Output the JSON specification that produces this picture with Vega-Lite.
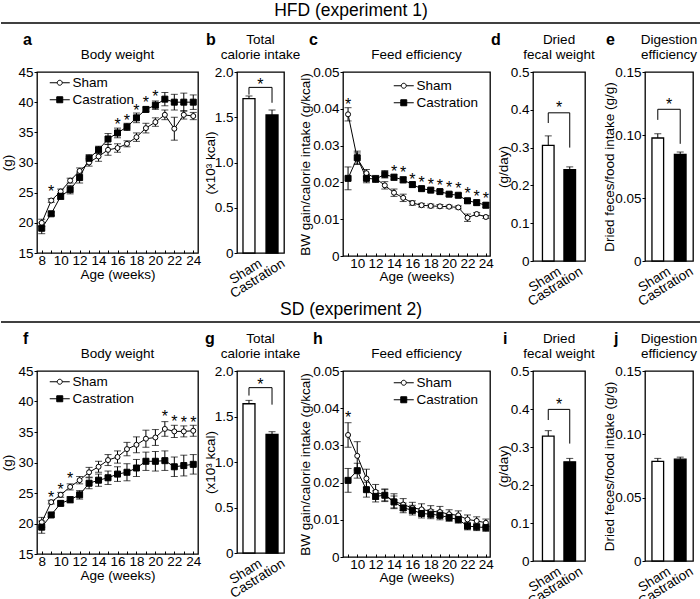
{
"$schema": "https://vega.github.io/schema/vega-lite/v6.json",
"padding": {"top": 1, "left": 0, "right": 0, "bottom": 0},
"spacing": -9,
"background": "white",
"config": {
 "font": "Liberation Sans",
 "view": {"stroke": "black", "strokeWidth": 1.3},
 "axis": {"grid": false, "domain": false, "labelFontSize": 13.5, "titleFontSize": 13.5, "titleFontWeight": "normal", "labelColor": "black", "titleColor": "black", "tickColor": "black", "tickSize": 3, "labelPadding": 1, "labelFlush": false, "labelOverlap": false},
 "title": {"fontSize": 13.5, "fontWeight": "normal", "color": "black", "offset": 4, "lineHeight": 15},
 "legend": {"labelFontSize": 13.5, "labelColor": "black", "padding": 0, "rowPadding": 2}
},
"datasets": {
 "bw1": [
  {"week":8,"group":"Sham","mean":20.0,"se":0.6},{"week":9,"group":"Sham","mean":23.7,"se":0.3},{"week":10,"group":"Sham","mean":25.2,"se":0.4},{"week":11,"group":"Sham","mean":27.0,"se":0.4},{"week":12,"group":"Sham","mean":28.6,"se":0.5},{"week":13,"group":"Sham","mean":30.0,"se":0.6},{"week":14,"group":"Sham","mean":31.0,"se":0.8},{"week":15,"group":"Sham","mean":32.1,"se":0.9},{"week":16,"group":"Sham","mean":32.4,"se":0.7},{"week":17,"group":"Sham","mean":33.1,"se":0.5},{"week":18,"group":"Sham","mean":34.2,"se":0.7},{"week":19,"group":"Sham","mean":35.7,"se":0.8},{"week":20,"group":"Sham","mean":36.7,"se":0.7},{"week":21,"group":"Sham","mean":37.9,"se":0.8},{"week":22,"group":"Sham","mean":35.6,"se":1.9},{"week":23,"group":"Sham","mean":37.9,"se":0.7},{"week":24,"group":"Sham","mean":37.7,"se":0.6},
  {"week":8,"group":"Castration","mean":19.1,"se":0.9},{"week":9,"group":"Castration","mean":21.5,"se":0.3},{"week":10,"group":"Castration","mean":24.4,"se":0.5},{"week":11,"group":"Castration","mean":25.5,"se":0.7},{"week":12,"group":"Castration","mean":27.5,"se":0.9},{"week":13,"group":"Castration","mean":30.7,"se":0.6},{"week":14,"group":"Castration","mean":32.1,"se":0.6},{"week":15,"group":"Castration","mean":33.9,"se":0.9},{"week":16,"group":"Castration","mean":34.9,"se":0.8},{"week":17,"group":"Castration","mean":35.9,"se":0.6},{"week":18,"group":"Castration","mean":37.4,"se":0.8},{"week":19,"group":"Castration","mean":38.8,"se":0.4},{"week":20,"group":"Castration","mean":39.5,"se":0.7},{"week":21,"group":"Castration","mean":40.5,"se":1.1},{"week":22,"group":"Castration","mean":40.0,"se":1.3},{"week":23,"group":"Castration","mean":40.0,"se":1.5},{"week":24,"group":"Castration","mean":40.0,"se":1.2}
 ],
 "st_a": [{"week":9,"mean":25.8},{"week":16,"mean":36.8},{"week":17,"mean":37.6},{"week":18,"mean":39.2},{"week":19,"mean":40.5},{"week":20,"mean":41.6}],
 "fe1": [
  {"week":9,"group":"Sham","mean":0.0385,"se":0.0018},{"week":10,"group":"Sham","mean":0.0265,"se":0.0015},{"week":11,"group":"Sham","mean":0.0225,"se":0.001},{"week":12,"group":"Sham","mean":0.0211,"se":0.0008},{"week":13,"group":"Sham","mean":0.0192,"se":0.001},{"week":14,"group":"Sham","mean":0.0172,"se":0.001},{"week":15,"group":"Sham","mean":0.0158,"se":0.001},{"week":16,"group":"Sham","mean":0.0144,"se":0.0006},{"week":17,"group":"Sham","mean":0.0138,"se":0.0005},{"week":18,"group":"Sham","mean":0.0136,"se":0.0005},{"week":19,"group":"Sham","mean":0.0135,"se":0.0005},{"week":20,"group":"Sham","mean":0.0134,"se":0.0004},{"week":21,"group":"Sham","mean":0.0132,"se":0.0004},{"week":22,"group":"Sham","mean":0.0104,"se":0.001},{"week":23,"group":"Sham","mean":0.0114,"se":0.0004},{"week":24,"group":"Sham","mean":0.0106,"se":0.0004},
  {"week":9,"group":"Castration","mean":0.0211,"se":0.0031},{"week":10,"group":"Castration","mean":0.0267,"se":0.0018},{"week":11,"group":"Castration","mean":0.0211,"se":0.0012},{"week":12,"group":"Castration","mean":0.0209,"se":0.0009},{"week":13,"group":"Castration","mean":0.0222,"se":0.001},{"week":14,"group":"Castration","mean":0.0214,"se":0.0008},{"week":15,"group":"Castration","mean":0.0207,"se":0.0008},{"week":16,"group":"Castration","mean":0.0194,"se":0.0007},{"week":17,"group":"Castration","mean":0.0183,"se":0.0006},{"week":18,"group":"Castration","mean":0.0179,"se":0.0005},{"week":19,"group":"Castration","mean":0.0175,"se":0.0005},{"week":20,"group":"Castration","mean":0.0168,"se":0.0005},{"week":21,"group":"Castration","mean":0.0165,"se":0.0005},{"week":22,"group":"Castration","mean":0.0150,"se":0.0007},{"week":23,"group":"Castration","mean":0.0145,"se":0.0007},{"week":24,"group":"Castration","mean":0.0138,"se":0.0007}
 ],
 "st_c": [{"week":9,"mean":0.042},{"week":14,"mean":0.0238},{"week":15,"mean":0.0236},{"week":16,"mean":0.0217},{"week":17,"mean":0.0209},{"week":18,"mean":0.0204},{"week":19,"mean":0.0202},{"week":20,"mean":0.0196},{"week":21,"mean":0.0193},{"week":22,"mean":0.0179},{"week":23,"mean":0.0172},{"week":24,"mean":0.0165}],
 "cal1": [{"group":"Sham","mean":1.705,"hi":1.735},{"group":"Castration","mean":1.525,"hi":1.58}],
 "br_b": [{"group":"Sham","mean":1.75,"i":0},{"group":"Sham","mean":1.83,"i":1},{"group":"Castration","mean":1.83,"i":2},{"group":"Castration","mean":1.66,"i":3}],
 "st_b": [{"group":"Sham","mean":1.9}],
 "fec1": [{"group":"Sham","mean":0.306,"hi":0.331},{"group":"Castration","mean":0.2416,"hi":0.249}],
 "br_d": [{"group":"Sham","mean":0.365,"i":0},{"group":"Sham","mean":0.392,"i":1},{"group":"Castration","mean":0.392,"i":2},{"group":"Castration","mean":0.30,"i":3}],
 "st_d": [{"group":"Sham","mean":0.416}],
 "dig1": [{"group":"Sham","mean":0.0976,"hi":0.101},{"group":"Castration","mean":0.0847,"hi":0.0865}],
 "br_e": [{"group":"Sham","mean":0.112,"i":0},{"group":"Sham","mean":0.1204,"i":1},{"group":"Castration","mean":0.1204,"i":2},{"group":"Castration","mean":0.093,"i":3}],
 "st_e": [{"group":"Sham","mean":0.127}],
 "bw2": [
  {"week":8,"group":"Sham","mean":20.2,"se":0.8},{"week":9,"group":"Sham","mean":23.5,"se":0.3},{"week":10,"group":"Sham","mean":24.7,"se":0.4},{"week":11,"group":"Sham","mean":26.0,"se":0.5},{"week":12,"group":"Sham","mean":27.1,"se":0.6},{"week":13,"group":"Sham","mean":28.4,"se":0.8},{"week":14,"group":"Sham","mean":29.3,"se":0.9},{"week":15,"group":"Sham","mean":30.4,"se":0.9},{"week":16,"group":"Sham","mean":30.9,"se":1.0},{"week":17,"group":"Sham","mean":32.2,"se":1.1},{"week":18,"group":"Sham","mean":32.9,"se":1.3},{"week":19,"group":"Sham","mean":33.9,"se":1.4},{"week":20,"group":"Sham","mean":34.1,"se":1.3},{"week":21,"group":"Sham","mean":35.5,"se":1.2},{"week":22,"group":"Sham","mean":35.1,"se":1.0},{"week":23,"group":"Sham","mean":35.1,"se":0.9},{"week":24,"group":"Sham","mean":35.2,"se":0.9},
  {"week":8,"group":"Castration","mean":19.4,"se":1.0},{"week":9,"group":"Castration","mean":21.4,"se":0.3},{"week":10,"group":"Castration","mean":23.3,"se":0.4},{"week":11,"group":"Castration","mean":23.9,"se":0.5},{"week":12,"group":"Castration","mean":24.7,"se":0.7},{"week":13,"group":"Castration","mean":26.6,"se":0.9},{"week":14,"group":"Castration","mean":27.1,"se":1.0},{"week":15,"group":"Castration","mean":27.5,"se":1.1},{"week":16,"group":"Castration","mean":28.1,"se":1.2},{"week":17,"group":"Castration","mean":28.4,"se":1.4},{"week":18,"group":"Castration","mean":29.1,"se":1.4},{"week":19,"group":"Castration","mean":30.2,"se":1.5},{"week":20,"group":"Castration","mean":30.2,"se":1.6},{"week":21,"group":"Castration","mean":30.3,"se":1.6},{"week":22,"group":"Castration","mean":29.3,"se":1.6},{"week":23,"group":"Castration","mean":29.5,"se":1.7},{"week":24,"group":"Castration","mean":29.7,"se":1.6}
 ],
 "st_f": [{"week":9,"mean":24.9},{"week":10,"mean":26.2},{"week":11,"mean":28.0},{"week":21,"mean":38.1},{"week":22,"mean":37.3},{"week":23,"mean":37.1},{"week":24,"mean":37.1}],
 "fe2": [
  {"week":9,"group":"Sham","mean":0.0328,"se":0.0033},{"week":10,"group":"Sham","mean":0.0272,"se":0.0038},{"week":11,"group":"Sham","mean":0.0211,"se":0.0025},{"week":12,"group":"Sham","mean":0.0175,"se":0.002},{"week":13,"group":"Sham","mean":0.0166,"se":0.0015},{"week":14,"group":"Sham","mean":0.015,"se":0.002},{"week":15,"group":"Sham","mean":0.0141,"se":0.0016},{"week":16,"group":"Sham","mean":0.0132,"se":0.0015},{"week":17,"group":"Sham","mean":0.0128,"se":0.0015},{"week":18,"group":"Sham","mean":0.0123,"se":0.0015},{"week":19,"group":"Sham","mean":0.0121,"se":0.0015},{"week":20,"group":"Sham","mean":0.0115,"se":0.0012},{"week":21,"group":"Sham","mean":0.0112,"se":0.0012},{"week":22,"group":"Sham","mean":0.0101,"se":0.0012},{"week":23,"group":"Sham","mean":0.0097,"se":0.0011},{"week":24,"group":"Sham","mean":0.0092,"se":0.001},
  {"week":9,"group":"Castration","mean":0.0206,"se":0.0032},{"week":10,"group":"Castration","mean":0.0232,"se":0.002},{"week":11,"group":"Castration","mean":0.0181,"se":0.002},{"week":12,"group":"Castration","mean":0.0163,"se":0.0015},{"week":13,"group":"Castration","mean":0.0166,"se":0.0017},{"week":14,"group":"Castration","mean":0.0148,"se":0.0016},{"week":15,"group":"Castration","mean":0.0132,"se":0.0013},{"week":16,"group":"Castration","mean":0.0126,"se":0.0013},{"week":17,"group":"Castration","mean":0.0117,"se":0.0012},{"week":18,"group":"Castration","mean":0.0115,"se":0.0012},{"week":19,"group":"Castration","mean":0.0112,"se":0.0012},{"week":20,"group":"Castration","mean":0.0106,"se":0.001},{"week":21,"group":"Castration","mean":0.0101,"se":0.001},{"week":22,"group":"Castration","mean":0.0083,"se":0.001},{"week":23,"group":"Castration","mean":0.0081,"se":0.001},{"week":24,"group":"Castration","mean":0.0079,"se":0.001}
 ],
 "st_h": [{"week":9,"mean":0.0384}],
 "cal2": [{"group":"Sham","mean":1.64,"hi":1.677},{"group":"Castration","mean":1.303,"hi":1.333}],
 "br_g": [{"group":"Sham","mean":1.73,"i":0},{"group":"Sham","mean":1.817,"i":1},{"group":"Castration","mean":1.817,"i":2},{"group":"Castration","mean":1.63,"i":3}],
 "st_g": [{"group":"Sham","mean":1.89}],
 "fec2": [{"group":"Sham","mean":0.3286,"hi":0.343},{"group":"Castration","mean":0.261,"hi":0.27}],
 "br_i": [{"group":"Sham","mean":0.371,"i":0},{"group":"Sham","mean":0.399,"i":1},{"group":"Castration","mean":0.399,"i":2},{"group":"Castration","mean":0.309,"i":3}],
 "st_i": [{"group":"Sham","mean":0.421}],
 "dig2": [{"group":"Sham","mean":0.0786,"hi":0.081},{"group":"Castration","mean":0.0804,"hi":0.082}],
 "hline": [{"x0":0,"x1":1,"y":0}],
 "none": []
},
"vconcat": [
 {
 "spacing": 7,
 "vconcat": [
 {
  "width": 700, "height": 1, "view": {"stroke": null},
  "title": {"text": "HFD (experiment 1)", "fontSize": 17.5, "offset": 3, "anchor": "middle"},
  "data": {"name": "hline"},
  "mark": {"type": "rule", "color": "black", "strokeWidth": 1.5},
  "encoding": {"x": {"field": "x0", "type": "quantitative", "scale": {"domain": [0, 1]}, "axis": null}, "x2": {"field": "x1"}, "y": {"field": "y", "type": "quantitative", "scale": {"domain": [0, 1]}, "axis": null}}
 },
 {
  "bounds": "flush", "spacing": 0,
  "resolve": {"scale": {"shape": "independent", "y": "independent", "x": "independent", "fill": "independent"}, "legend": {"shape": "independent"}},
  "hconcat": [
   {"width": 36, "height": 181, "view": {"stroke": null}, "title": {"text": "a", "anchor": "start", "dx": 22, "fontSize": 16, "fontWeight": "bold", "offset": 24}, "data": {"name": "none"}, "mark": "point"},
   {
    "width": 161, "height": 181,
    "title": {"text": "Body weight"},
    "data": {"name": "bw1"},
    "encoding": {
     "x": {"field": "week", "type": "quantitative", "scale": {"domain": [7.5, 24.5], "nice": false, "zero": false}, "axis": {"title": "Age (weeks)", "values": [8,9,10,11,12,13,14,15,16,17,18,19,20,21,22,23,24], "labelExpr": "datum.value % 2 === 0 ? datum.label : ''", "tickSize": -3, "labelPadding": 3, "titlePadding": 1}},
     "y": {"field": "mean", "type": "quantitative", "scale": {"domain": [15, 45], "nice": false, "zero": false}, "axis": {"title": "(g)", "values": [15,20,25,30,35,40,45], "titlePadding": 3}}
    },
    "layer": [
     {"mark": {"type": "errorbar", "color": "black", "ticks": {"size": 7, "color": "black"}, "rule": {"color": "black"}}, "encoding": {"yError": {"field": "se"}, "detail": {"field": "group"}}},
     {"mark": {"type": "line", "color": "black", "strokeWidth": 1}, "encoding": {"detail": {"field": "group"}}},
     {"mark": {"type": "point", "stroke": "black", "strokeWidth": 1, "opacity": 1}, "encoding": {
      "shape": {"condition": {"test": "datum.group === 'Sham'", "value": "circle"}, "value": "square"},
      "fill": {"condition": {"test": "datum.group === 'Sham'", "value": "white"}, "value": "black"},
      "size": {"condition": {"test": "datum.group === 'Sham'", "value": 25}, "value": 36}
     }},
     {"mark": {"type": "point", "opacity": 0}, "encoding": {
      "shape": {"field": "group", "type": "nominal", "scale": {"domain": ["Sham", "Castration"], "range": ["M-2,0H-0.5M0.5,0H2M0.5,0A0.5,0.5,0,1,1,-0.5,0A0.5,0.5,0,1,1,0.5,0Z", "M-2,0H2M-0.6,-0.6H0.6V0.6H-0.6Z"]}, "legend": {"orient": "none", "legendX": 16, "legendY": 4, "title": null, "symbolSize": 100, "symbolOpacity": 1, "symbolStrokeWidth": 1, "symbolStrokeColor": "black", "labelOffset": 6, "encoding": {"symbols": {"fill": {"condition": {"test": "datum.value === 'Sham'", "value": "white"}, "value": "black"}, "stroke": {"value": "black"}, "strokeWidth": {"value": 1}, "size": {"value": 100}, "opacity": {"value": 1}}}}}
     }},
     {"data": {"name": "st_a"}, "mark": {"type": "text", "text": "*", "fontSize": 16, "baseline": "middle", "dy": 4}}
    ]
   },
   {"width": 39, "height": 181, "view": {"stroke": null}, "title": {"text": "b", "anchor": "start", "dx": 8, "fontSize": 16, "fontWeight": "bold", "offset": 24}, "data": {"name": "none"}, "mark": "point"},
   {
    "width": 47, "height": 181,
    "title": {"text": ["Total", "calorie intake"]},
    "data": {"name": "cal1"},
    "encoding": {
     "x": {"field": "group", "type": "nominal", "sort": ["Sham", "Castration"], "scale": {"paddingInner": 0.48, "paddingOuter": 0.26}, "axis": {"title": null, "labelAngle": -32, "labelAlign": "right", "labelBaseline": "top", "labelOffset": 8, "ticks": false, "labelPadding": 3}},
     "y": {"field": "mean", "type": "quantitative", "scale": {"domain": [0, 2], "nice": false}, "axis": {"title": "(x10³ kcal)", "values": [0, 0.5, 1, 1.5, 2], "labelExpr": "datum.value === 0 ? '0' : format(datum.value, '.1f')", "titlePadding": -3}}
    },
    "layer": [
     {"mark": {"type": "rule", "color": "black", "strokeWidth": 1}, "encoding": {"y2": {"field": "hi"}}},
     {"mark": {"type": "tick", "color": "black", "thickness": 1, "size": 7}, "encoding": {"y": {"field": "hi", "type": "quantitative"}}},
     {"mark": {"type": "bar", "stroke": "black", "strokeWidth": 1.3}, "encoding": {"fill": {"field": "group", "type": "nominal", "scale": {"domain": ["Sham", "Castration"], "range": ["white", "black"]}, "legend": null}}},
     {"data": {"name": "br_b"}, "mark": {"type": "line", "color": "black", "strokeWidth": 1}, "encoding": {"order": {"field": "i"}}},
     {"data": {"name": "st_b"}, "mark": {"type": "text", "text": "*", "fontSize": 16, "baseline": "middle", "dy": 4, "dx": 11.5}}
    ]
   },
   {"width": 59, "height": 181, "view": {"stroke": null}, "title": {"text": "c", "anchor": "start", "dx": 25, "fontSize": 16, "fontWeight": "bold", "offset": 24}, "data": {"name": "none"}, "mark": "point"},
   {
    "width": 147, "height": 184,
    "title": {"text": "Feed efficiency"},
    "data": {"name": "fe1"},
    "encoding": {
     "x": {"field": "week", "type": "quantitative", "scale": {"domain": [8.45, 24.45], "nice": false, "zero": false}, "axis": {"title": "Age (weeks)", "values": [9,10,11,12,13,14,15,16,17,18,19,20,21,22,23,24], "labelExpr": "datum.value % 2 === 0 ? datum.label : ''", "tickSize": -3, "labelPadding": 3, "titlePadding": 0}},
     "y": {"field": "mean", "type": "quantitative", "scale": {"domain": [0, 0.05], "nice": false}, "axis": {"title": "BW gain/calorie intake (g/kcal)", "values": [0, 0.01, 0.02, 0.03, 0.04, 0.05], "labelExpr": "datum.value === 0 ? '0' : format(datum.value, '.2f')", "titlePadding": 0}}
    },
    "layer": [
     {"mark": {"type": "errorbar", "color": "black", "ticks": {"size": 7, "color": "black"}, "rule": {"color": "black"}}, "encoding": {"yError": {"field": "se"}, "detail": {"field": "group"}}},
     {"mark": {"type": "line", "color": "black", "strokeWidth": 1}, "encoding": {"detail": {"field": "group"}}},
     {"mark": {"type": "point", "stroke": "black", "strokeWidth": 1, "opacity": 1}, "encoding": {
      "shape": {"condition": {"test": "datum.group === 'Sham'", "value": "circle"}, "value": "square"},
      "fill": {"condition": {"test": "datum.group === 'Sham'", "value": "white"}, "value": "black"},
      "size": {"condition": {"test": "datum.group === 'Sham'", "value": 25}, "value": 36}
     }},
     {"mark": {"type": "point", "opacity": 0}, "encoding": {
      "shape": {"field": "group", "type": "nominal", "scale": {"domain": ["Sham", "Castration"], "range": ["M-2,0H-0.5M0.5,0H2M0.5,0A0.5,0.5,0,1,1,-0.5,0A0.5,0.5,0,1,1,0.5,0Z", "M-2,0H2M-0.6,-0.6H0.6V0.6H-0.6Z"]}, "legend": {"orient": "none", "legendX": 54, "legendY": 7, "title": null, "symbolSize": 100, "symbolOpacity": 1, "symbolStrokeWidth": 1, "symbolStrokeColor": "black", "labelOffset": 6, "encoding": {"symbols": {"fill": {"condition": {"test": "datum.value === 'Sham'", "value": "white"}, "value": "black"}, "stroke": {"value": "black"}, "strokeWidth": {"value": 1}, "size": {"value": 100}, "opacity": {"value": 1}}}}}
     }},
     {"data": {"name": "st_c"}, "mark": {"type": "text", "text": "*", "fontSize": 16, "baseline": "middle", "dy": 4}}
    ]
   },
   {"width": 43, "height": 181, "view": {"stroke": null}, "title": {"text": "d", "anchor": "start", "dx": 1, "fontSize": 16, "fontWeight": "bold", "offset": 24}, "data": {"name": "none"}, "mark": "point"},
   {
    "width": 52, "height": 189,
    "title": {"text": ["Dried", "fecal weight"]},
    "data": {"name": "fec1"},
    "encoding": {
     "x": {"field": "group", "type": "nominal", "sort": ["Sham", "Castration"], "scale": {"paddingInner": 0.46, "paddingOuter": 0.44}, "axis": {"title": null, "labelAngle": -32, "labelAlign": "right", "labelBaseline": "top", "labelOffset": 8, "ticks": false, "labelPadding": 3}},
     "y": {"field": "mean", "type": "quantitative", "scale": {"domain": [0, 0.5], "nice": false}, "axis": {"title": "(g/day)", "values": [0, 0.1, 0.2, 0.3, 0.4, 0.5], "labelExpr": "datum.value === 0 ? '0' : format(datum.value, '.1f')", "titlePadding": 0}}
    },
    "layer": [
     {"mark": {"type": "rule", "color": "black", "strokeWidth": 1}, "encoding": {"y2": {"field": "hi"}}},
     {"mark": {"type": "tick", "color": "black", "thickness": 1, "size": 7}, "encoding": {"y": {"field": "hi", "type": "quantitative"}}},
     {"mark": {"type": "bar", "stroke": "black", "strokeWidth": 1.3}, "encoding": {"fill": {"field": "group", "type": "nominal", "scale": {"domain": ["Sham", "Castration"], "range": ["white", "black"]}, "legend": null}}},
     {"data": {"name": "br_d"}, "mark": {"type": "line", "color": "black", "strokeWidth": 1}, "encoding": {"order": {"field": "i"}}},
     {"data": {"name": "st_d"}, "mark": {"type": "text", "text": "*", "fontSize": 16, "baseline": "middle", "dy": 4, "dx": 10.75}}
    ]
   },
   {"width": 60, "height": 181, "view": {"stroke": null}, "title": {"text": "e", "anchor": "start", "dx": 21, "fontSize": 16, "fontWeight": "bold", "offset": 24}, "data": {"name": "none"}, "mark": "point"},
   {
    "width": 48, "height": 189,
    "title": {"text": ["Digestion", "efficiency"]},
    "data": {"name": "dig1"},
    "encoding": {
     "x": {"field": "group", "type": "nominal", "sort": ["Sham", "Castration"], "scale": {"paddingInner": 0.48, "paddingOuter": 0.31}, "axis": {"title": null, "labelAngle": -32, "labelAlign": "right", "labelBaseline": "top", "labelOffset": 8, "ticks": false, "labelPadding": 3}},
     "y": {"field": "mean", "type": "quantitative", "scale": {"domain": [0, 0.15], "nice": false}, "axis": {"title": "Dried feces/food intake (g/g)", "values": [0, 0.05, 0.1, 0.15], "labelExpr": "datum.value === 0 ? '0' : format(datum.value, '.2f')", "titlePadding": -2}}
    },
    "layer": [
     {"mark": {"type": "rule", "color": "black", "strokeWidth": 1}, "encoding": {"y2": {"field": "hi"}}},
     {"mark": {"type": "tick", "color": "black", "thickness": 1, "size": 7}, "encoding": {"y": {"field": "hi", "type": "quantitative"}}},
     {"mark": {"type": "bar", "stroke": "black", "strokeWidth": 1.3}, "encoding": {"fill": {"field": "group", "type": "nominal", "scale": {"domain": ["Sham", "Castration"], "range": ["white", "black"]}, "legend": null}}},
     {"data": {"name": "br_e"}, "mark": {"type": "line", "color": "black", "strokeWidth": 1}, "encoding": {"order": {"field": "i"}}},
     {"data": {"name": "st_e"}, "mark": {"type": "text", "text": "*", "fontSize": 16, "baseline": "middle", "dy": 4, "dx": 11.2}}
    ]
   }
  ]
 }
 ]
 },
 {
 "spacing": 7,
 "vconcat": [
 {
  "width": 700, "height": 1, "view": {"stroke": null},
  "title": {"text": "SD (experiment 2)", "fontSize": 17.5, "offset": 3, "anchor": "middle"},
  "data": {"name": "hline"},
  "mark": {"type": "rule", "color": "black", "strokeWidth": 1.5},
  "encoding": {"x": {"field": "x0", "type": "quantitative", "scale": {"domain": [0, 1]}, "axis": null}, "x2": {"field": "x1"}, "y": {"field": "y", "type": "quantitative", "scale": {"domain": [0, 1]}, "axis": null}}
 },
 {
  "bounds": "flush", "spacing": 0,
  "resolve": {"scale": {"shape": "independent", "y": "independent", "x": "independent", "fill": "independent"}, "legend": {"shape": "independent"}},
  "hconcat": [
   {"width": 36, "height": 183, "view": {"stroke": null}, "title": {"text": "f", "anchor": "start", "dx": 22, "fontSize": 16, "fontWeight": "bold", "offset": 24}, "data": {"name": "none"}, "mark": "point"},
   {
    "width": 161, "height": 183,
    "title": {"text": "Body weight"},
    "data": {"name": "bw2"},
    "encoding": {
     "x": {"field": "week", "type": "quantitative", "scale": {"domain": [7.5, 24.5], "nice": false, "zero": false}, "axis": {"title": "Age (weeks)", "values": [8,9,10,11,12,13,14,15,16,17,18,19,20,21,22,23,24], "labelExpr": "datum.value % 2 === 0 ? datum.label : ''", "tickSize": -3, "labelPadding": 3, "titlePadding": 1}},
     "y": {"field": "mean", "type": "quantitative", "scale": {"domain": [15, 45], "nice": false, "zero": false}, "axis": {"title": "(g)", "values": [15,20,25,30,35,40,45], "titlePadding": 3}}
    },
    "layer": [
     {"mark": {"type": "errorbar", "color": "black", "ticks": {"size": 7, "color": "black"}, "rule": {"color": "black"}}, "encoding": {"yError": {"field": "se"}, "detail": {"field": "group"}}},
     {"mark": {"type": "line", "color": "black", "strokeWidth": 1}, "encoding": {"detail": {"field": "group"}}},
     {"mark": {"type": "point", "stroke": "black", "strokeWidth": 1, "opacity": 1}, "encoding": {
      "shape": {"condition": {"test": "datum.group === 'Sham'", "value": "circle"}, "value": "square"},
      "fill": {"condition": {"test": "datum.group === 'Sham'", "value": "white"}, "value": "black"},
      "size": {"condition": {"test": "datum.group === 'Sham'", "value": 25}, "value": 36}
     }},
     {"mark": {"type": "point", "opacity": 0}, "encoding": {
      "shape": {"field": "group", "type": "nominal", "scale": {"domain": ["Sham", "Castration"], "range": ["M-2,0H-0.5M0.5,0H2M0.5,0A0.5,0.5,0,1,1,-0.5,0A0.5,0.5,0,1,1,0.5,0Z", "M-2,0H2M-0.6,-0.6H0.6V0.6H-0.6Z"]}, "legend": {"orient": "none", "legendX": 16, "legendY": 4, "title": null, "symbolSize": 100, "symbolOpacity": 1, "symbolStrokeWidth": 1, "symbolStrokeColor": "black", "labelOffset": 6, "encoding": {"symbols": {"fill": {"condition": {"test": "datum.value === 'Sham'", "value": "white"}, "value": "black"}, "stroke": {"value": "black"}, "strokeWidth": {"value": 1}, "size": {"value": 100}, "opacity": {"value": 1}}}}}
     }},
     {"data": {"name": "st_f"}, "mark": {"type": "text", "text": "*", "fontSize": 16, "baseline": "middle", "dy": 4}}
    ]
   },
   {"width": 39, "height": 183, "view": {"stroke": null}, "title": {"text": "g", "anchor": "start", "dx": 7, "fontSize": 16, "fontWeight": "bold", "offset": 24}, "data": {"name": "none"}, "mark": "point"},
   {
    "width": 47, "height": 182,
    "title": {"text": ["Total", "calorie intake"]},
    "data": {"name": "cal2"},
    "encoding": {
     "x": {"field": "group", "type": "nominal", "sort": ["Sham", "Castration"], "scale": {"paddingInner": 0.48, "paddingOuter": 0.26}, "axis": {"title": null, "labelAngle": -32, "labelAlign": "right", "labelBaseline": "top", "labelOffset": 8, "ticks": false, "labelPadding": 3}},
     "y": {"field": "mean", "type": "quantitative", "scale": {"domain": [0, 2], "nice": false}, "axis": {"title": "(x10³ kcal)", "values": [0, 0.5, 1, 1.5, 2], "labelExpr": "datum.value === 0 ? '0' : format(datum.value, '.1f')", "titlePadding": -3}}
    },
    "layer": [
     {"mark": {"type": "rule", "color": "black", "strokeWidth": 1}, "encoding": {"y2": {"field": "hi"}}},
     {"mark": {"type": "tick", "color": "black", "thickness": 1, "size": 7}, "encoding": {"y": {"field": "hi", "type": "quantitative"}}},
     {"mark": {"type": "bar", "stroke": "black", "strokeWidth": 1.3}, "encoding": {"fill": {"field": "group", "type": "nominal", "scale": {"domain": ["Sham", "Castration"], "range": ["white", "black"]}, "legend": null}}},
     {"data": {"name": "br_g"}, "mark": {"type": "line", "color": "black", "strokeWidth": 1}, "encoding": {"order": {"field": "i"}}},
     {"data": {"name": "st_g"}, "mark": {"type": "text", "text": "*", "fontSize": 16, "baseline": "middle", "dy": 4, "dx": 11.5}}
    ]
   },
   {"width": 59, "height": 183, "view": {"stroke": null}, "title": {"text": "h", "anchor": "start", "dx": 29, "fontSize": 16, "fontWeight": "bold", "offset": 24}, "data": {"name": "none"}, "mark": "point"},
   {
    "width": 147, "height": 186,
    "title": {"text": "Feed efficiency"},
    "data": {"name": "fe2"},
    "encoding": {
     "x": {"field": "week", "type": "quantitative", "scale": {"domain": [8.45, 24.45], "nice": false, "zero": false}, "axis": {"title": "Age (weeks)", "values": [9,10,11,12,13,14,15,16,17,18,19,20,21,22,23,24], "labelExpr": "datum.value % 2 === 0 ? datum.label : ''", "tickSize": -3, "labelPadding": 3, "titlePadding": 0}},
     "y": {"field": "mean", "type": "quantitative", "scale": {"domain": [0, 0.05], "nice": false}, "axis": {"title": "BW gain/calorie intake (g/kcal)", "values": [0, 0.01, 0.02, 0.03, 0.04, 0.05], "labelExpr": "datum.value === 0 ? '0' : format(datum.value, '.2f')", "titlePadding": 0}}
    },
    "layer": [
     {"mark": {"type": "errorbar", "color": "black", "ticks": {"size": 7, "color": "black"}, "rule": {"color": "black"}}, "encoding": {"yError": {"field": "se"}, "detail": {"field": "group"}}},
     {"mark": {"type": "line", "color": "black", "strokeWidth": 1}, "encoding": {"detail": {"field": "group"}}},
     {"mark": {"type": "point", "stroke": "black", "strokeWidth": 1, "opacity": 1}, "encoding": {
      "shape": {"condition": {"test": "datum.group === 'Sham'", "value": "circle"}, "value": "square"},
      "fill": {"condition": {"test": "datum.group === 'Sham'", "value": "white"}, "value": "black"},
      "size": {"condition": {"test": "datum.group === 'Sham'", "value": 25}, "value": 36}
     }},
     {"mark": {"type": "point", "opacity": 0}, "encoding": {
      "shape": {"field": "group", "type": "nominal", "scale": {"domain": ["Sham", "Castration"], "range": ["M-2,0H-0.5M0.5,0H2M0.5,0A0.5,0.5,0,1,1,-0.5,0A0.5,0.5,0,1,1,0.5,0Z", "M-2,0H2M-0.6,-0.6H0.6V0.6H-0.6Z"]}, "legend": {"orient": "none", "legendX": 54, "legendY": 5, "title": null, "symbolSize": 100, "symbolOpacity": 1, "symbolStrokeWidth": 1, "symbolStrokeColor": "black", "labelOffset": 6, "encoding": {"symbols": {"fill": {"condition": {"test": "datum.value === 'Sham'", "value": "white"}, "value": "black"}, "stroke": {"value": "black"}, "strokeWidth": {"value": 1}, "size": {"value": 100}, "opacity": {"value": 1}}}}}
     }},
     {"data": {"name": "st_h"}, "mark": {"type": "text", "text": "*", "fontSize": 16, "baseline": "middle", "dy": 4}}
    ]
   },
   {"width": 43, "height": 183, "view": {"stroke": null}, "title": {"text": "i", "anchor": "start", "dx": 13, "fontSize": 16, "fontWeight": "bold", "offset": 24}, "data": {"name": "none"}, "mark": "point"},
   {
    "width": 52, "height": 190,
    "title": {"text": ["Dried", "fecal weight"]},
    "data": {"name": "fec2"},
    "encoding": {
     "x": {"field": "group", "type": "nominal", "sort": ["Sham", "Castration"], "scale": {"paddingInner": 0.46, "paddingOuter": 0.44}, "axis": {"title": null, "labelAngle": -32, "labelAlign": "right", "labelBaseline": "top", "labelOffset": 8, "ticks": false, "labelPadding": 3}},
     "y": {"field": "mean", "type": "quantitative", "scale": {"domain": [0, 0.5], "nice": false}, "axis": {"title": "(g/day)", "values": [0, 0.1, 0.2, 0.3, 0.4, 0.5], "labelExpr": "datum.value === 0 ? '0' : format(datum.value, '.1f')", "titlePadding": 0}}
    },
    "layer": [
     {"mark": {"type": "rule", "color": "black", "strokeWidth": 1}, "encoding": {"y2": {"field": "hi"}}},
     {"mark": {"type": "tick", "color": "black", "thickness": 1, "size": 7}, "encoding": {"y": {"field": "hi", "type": "quantitative"}}},
     {"mark": {"type": "bar", "stroke": "black", "strokeWidth": 1.3}, "encoding": {"fill": {"field": "group", "type": "nominal", "scale": {"domain": ["Sham", "Castration"], "range": ["white", "black"]}, "legend": null}}},
     {"data": {"name": "br_i"}, "mark": {"type": "line", "color": "black", "strokeWidth": 1}, "encoding": {"order": {"field": "i"}}},
     {"data": {"name": "st_i"}, "mark": {"type": "text", "text": "*", "fontSize": 16, "baseline": "middle", "dy": 4, "dx": 10.75}}
    ]
   },
   {"width": 60, "height": 183, "view": {"stroke": null}, "title": {"text": "j", "anchor": "start", "dx": 29, "fontSize": 16, "fontWeight": "bold", "offset": 24}, "data": {"name": "none"}, "mark": "point"},
   {
    "width": 48, "height": 190,
    "title": {"text": ["Digestion", "efficiency"]},
    "data": {"name": "dig2"},
    "encoding": {
     "x": {"field": "group", "type": "nominal", "sort": ["Sham", "Castration"], "scale": {"paddingInner": 0.48, "paddingOuter": 0.31}, "axis": {"title": null, "labelAngle": -32, "labelAlign": "right", "labelBaseline": "top", "labelOffset": 8, "ticks": false, "labelPadding": 3}},
     "y": {"field": "mean", "type": "quantitative", "scale": {"domain": [0, 0.15], "nice": false}, "axis": {"title": "Dried feces/food intake (g/g)", "values": [0, 0.05, 0.1, 0.15], "labelExpr": "datum.value === 0 ? '0' : format(datum.value, '.2f')", "titlePadding": -2}}
    },
    "layer": [
     {"mark": {"type": "rule", "color": "black", "strokeWidth": 1}, "encoding": {"y2": {"field": "hi"}}},
     {"mark": {"type": "tick", "color": "black", "thickness": 1, "size": 7}, "encoding": {"y": {"field": "hi", "type": "quantitative"}}},
     {"mark": {"type": "bar", "stroke": "black", "strokeWidth": 1.3}, "encoding": {"fill": {"field": "group", "type": "nominal", "scale": {"domain": ["Sham", "Castration"], "range": ["white", "black"]}, "legend": null}}}
    ]
   }
  ]
 }
 ]
 }
]
}
